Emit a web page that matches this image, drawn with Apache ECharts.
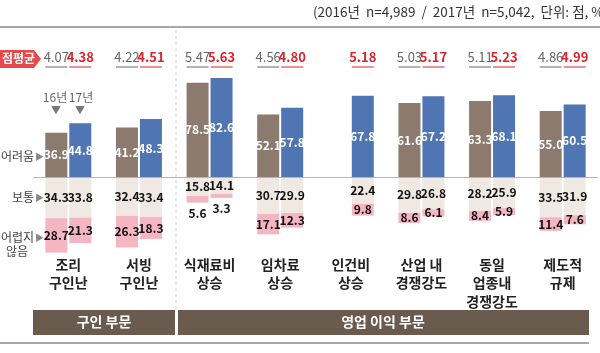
<!DOCTYPE html>
<html>
<head>
<meta charset="utf-8">
<script src="https://cdn.jsdelivr.net/npm/echarts@6/dist/echarts.min.js"></script>
<style>
  html,body{margin:0;padding:0;background:#fff;}
  #main{width:600px;height:353px;}
</style>
</head>
<body>
<div id="main"></div>
<script>
// 항목
var categories = ['조리\n구인난', '서빙\n구인난', '식재료비\n상승', '임차료\n상승', '인건비\n상승', '산업 내\n경쟁강도', '동일\n업종내\n경쟁강도', '제도적\n규제'];
// 어려움 / 보통 / 어렵지 않음 (%)
var hard16 = [36.9, 41.2, 78.5, 52.1, null, 61.6, 63.3, 55.0];
var hard17 = [44.8, 48.3, 82.6, 57.8, 67.8, 67.2, 68.1, 60.5];
var normal16 = [34.3, 32.4, 15.8, 30.7, null, 29.8, 28.2, 33.5];
var normal17 = [33.8, 33.4, 14.1, 29.9, 22.4, 26.8, 25.9, 31.9];
var easy16 = [28.7, 26.3, 5.6, 17.1, null, 8.6, 8.4, 11.4];
var easy17 = [21.3, 18.3, 3.3, 12.3, 9.8, 6.1, 5.9, 7.6];
// 점평균
var score16 = [4.07, 4.22, 5.47, 4.56, null, 5.03, 5.11, 4.86];
var score17 = [4.38, 4.51, 5.63, 4.80, 5.18, 5.17, 5.23, 4.99];

var FONT = 'Noto Sans CJK KR';
var myChart = echarts.init(document.getElementById('main'));

function neg(arr) {
    return arr.map(function (v) { return v == null ? null : -v; });
}
function absLabel(p) {
    return Math.abs(p.value).toFixed(1);
}
// 작은 값은 막대 아래에 표시
function easyData(arr) {
    return arr.map(function (v) {
        if (v == null) return null;
        var item = { value: -v };
        if (v < 5.8) item.label = { position: 'bottom', distance: 5 };
        return item;
    });
}
function numLabel(color) {
    return { show: true, position: 'inside', color: color, fontSize: 12, fontWeight: 'bold', formatter: absLabel };
}

var barBase = { type: 'bar', barWidth: 22, barGap: '9%' };

var graphics = [
    // 상단 설명 + 구분선
    { type: 'text', left: 313, top: 5, style: { text: '(2016년  n=4,989  /  2017년  n=5,042,  단위: 점, %)', font: '13.5px "' + FONT + '"', fill: '#333' } },
    { type: 'line', shape: { x1: 0, y1: 27, x2: 600, y2: 27 }, style: { stroke: '#8a8a8a', lineWidth: 1.5 } },
    // 점평균 뱃지
    { type: 'polygon', shape: { points: [[0, 50], [34, 50], [41, 59], [34, 68], [0, 68]] }, style: { fill: '#e8474c' } },
    { type: 'text', x: 2, y: 52, style: { text: '점평균', font: 'bold 12px "' + FONT + '"', fill: '#fff' } },
    // 16년 17년
    { type: 'text', x: 55, y: 91, style: { text: '16년', font: '12px "' + FONT + '"', fill: '#666', align: 'center' } },
    { type: 'text', x: 81, y: 91, style: { text: '17년', font: '12px "' + FONT + '"', fill: '#666', align: 'center' } },
    { type: 'text', x: 56, y: 105, style: { text: '▼', font: '10px "' + FONT + '"', fill: '#777', align: 'center' } },
    { type: 'text', x: 80, y: 105, style: { text: '▼', font: '10px "' + FONT + '"', fill: '#777', align: 'center' } },
    // 좌측 구분 라벨
    { type: 'text', x: 34, y: 150, style: { text: '어려움', font: '12px "' + FONT + '"', fill: '#444', align: 'right' } },
    { type: 'text', x: 35, y: 152, style: { text: '▶', font: '9px "' + FONT + '"', fill: '#888' } },
    { type: 'text', x: 34, y: 191, style: { text: '보통', font: '12px "' + FONT + '"', fill: '#444', align: 'right' } },
    { type: 'text', x: 35, y: 193, style: { text: '▶', font: '9px "' + FONT + '"', fill: '#888' } },
    { type: 'text', x: 34, y: 231, style: { text: '어렵지', font: '12px "' + FONT + '"', fill: '#444', align: 'right' } },
    { type: 'text', x: 35, y: 233, style: { text: '▶', font: '9px "' + FONT + '"', fill: '#888' } },
    { type: 'text', x: 17, y: 245, style: { text: '않음', font: '12px "' + FONT + '"', fill: '#444', align: 'center' } },
    // 점선 구분
    { type: 'line', shape: { x1: 176, y1: 30, x2: 176, y2: 310 }, style: { stroke: '#d0d0d0', lineWidth: 1, lineDash: [3, 3] } },
    // 하단 부문 띠
    { type: 'rect', shape: { x: 33, y: 310, width: 142, height: 25 }, style: { fill: '#6b5a4e' } },
    { type: 'text', x: 104, y: 315, style: { text: '구인 부문', font: 'bold 14px "' + FONT + '"', fill: '#fff', align: 'center' } },
    { type: 'rect', shape: { x: 178, y: 310, width: 411, height: 25 }, style: { fill: '#6b5a4e' } },
    { type: 'text', x: 383, y: 315, style: { text: '영업 이익 부문', font: 'bold 14px "' + FONT + '"', fill: '#fff', align: 'center' } },
    { type: 'line', shape: { x1: 0, y1: 343, x2: 589, y2: 343 }, style: { stroke: '#8a8a8a', lineWidth: 1.5 } }
];

myChart.setOption({
    animation: false,
    textStyle: { fontFamily: FONT },
    grid: { left: 33, right: 2, top: 57, bottom: 96 },
    xAxis: {
        type: 'category',
        data: categories,
        axisLine: { show: false },
        axisTick: { show: false },
        axisLabel: {
            interval: 0,
            margin: -2,
            fontSize: 14,
            fontWeight: 'bold',
            color: '#222',
            lineHeight: 18.5,
            verticalAlign: 'top'
        }
    },
    yAxis: {
        type: 'value',
        min: -200 / 3,
        max: 100,
        show: false,
        splitLine: { show: false }
    },
    series: [
        Object.assign({}, barBase, {
            name: '16어려움', stack: 's16', data: hard16,
            itemStyle: { color: '#8c7a6e' },
            label: numLabel('#fff'),
            markLine: {
                silent: true, symbol: 'none', label: { show: false },
                lineStyle: { color: '#b5b5b5', width: 1, type: 'solid' },
                data: [{ yAxis: 0 }]
            }
        }),
        Object.assign({}, barBase, { name: '16보통', stack: 's16', data: neg(normal16), itemStyle: { color: '#efe8e3' }, label: numLabel('#111') }),
        Object.assign({}, barBase, { name: '16어렵지않음', stack: 's16', data: easyData(easy16), itemStyle: { color: '#f5b5c3' }, label: numLabel('#111') }),
        Object.assign({}, barBase, { name: '17어려움', stack: 's17', data: hard17, itemStyle: { color: '#4f75b3' }, label: numLabel('#fff') }),
        Object.assign({}, barBase, { name: '17보통', stack: 's17', data: neg(normal17), itemStyle: { color: '#efe8e3' }, label: numLabel('#111') }),
        Object.assign({}, barBase, { name: '17어렵지않음', stack: 's17', data: easyData(easy17), itemStyle: { color: '#f5b5c3' }, label: numLabel('#111') })
    ]
});

// 점평균: 축 좌표로 위치 계산 후 밑줄 텍스트
function addScores(arr, dx, color, bold) {
    arr.forEach(function (v, i) {
        if (v == null) return;
        var x = myChart.convertToPixel({ xAxisIndex: 0, yAxisIndex: 0 }, [i, 0])[0] + dx;
        graphics.push({ type: 'text', x: x, y: 51, style: { text: v.toFixed(2), font: (bold ? 'bold ' : '') + '13px "' + FONT + '"', fill: color, align: 'center' } });
        graphics.push({ type: 'line', shape: { x1: x - 11, y1: 67, x2: x + 11, y2: 67 }, style: { stroke: color, lineWidth: 1 } });
    });
}
addScores(score16, -12, '#666', false);
addScores(score17, 12, '#d9252b', true);
myChart.setOption({ graphic: graphics });
</script>
</body>
</html>
